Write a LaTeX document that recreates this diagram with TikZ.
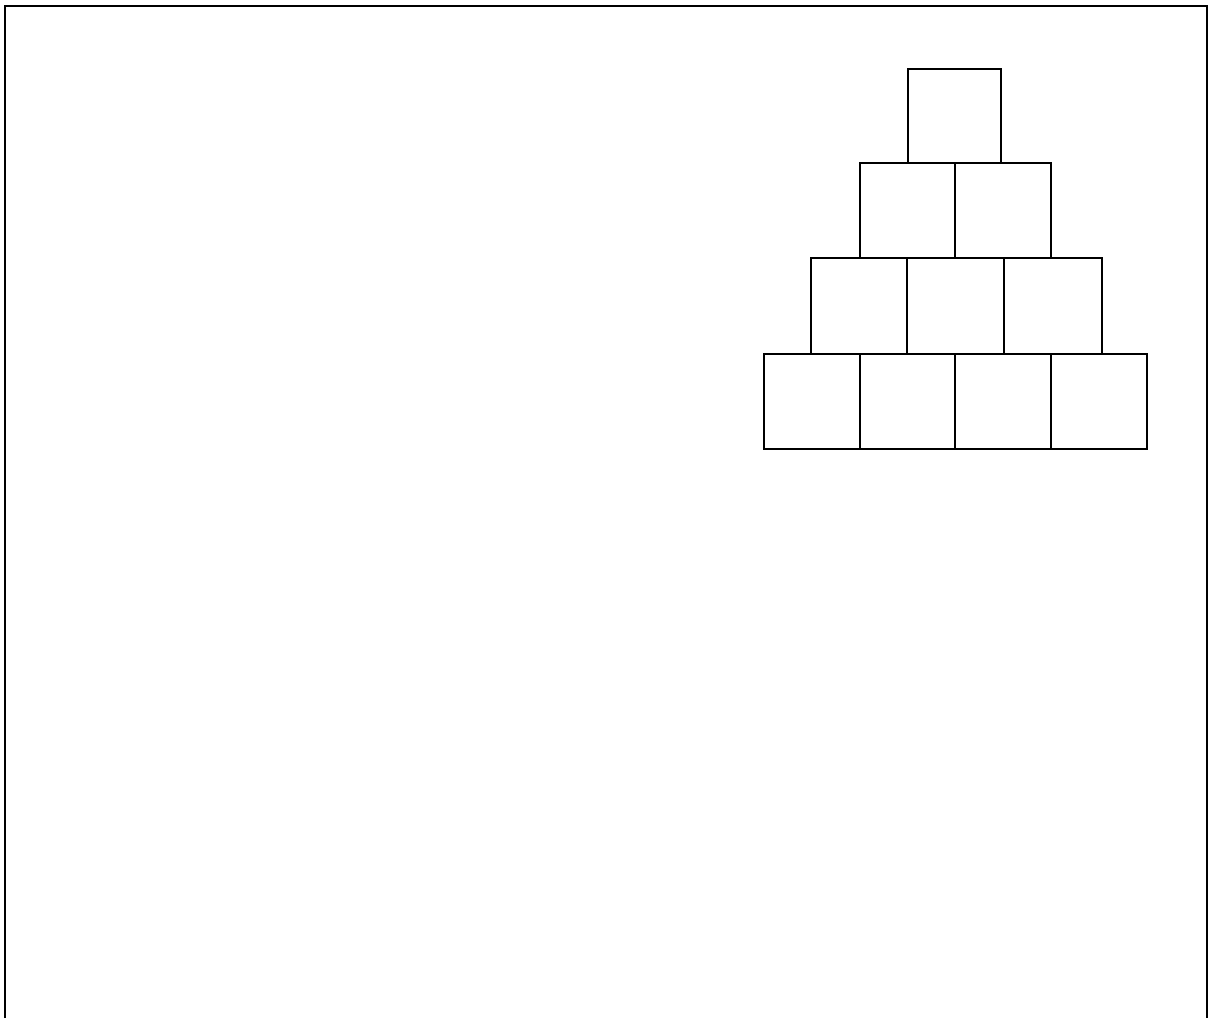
\documentclass[tikz,border=0pt]{standalone}
\begin{document}
\begin{tikzpicture}[x=1pt,y=-1pt,
  cell/.style={draw=black,line width=2.8pt,rectangle,inner sep=0pt,outer sep=0pt,fill=none},
  frameline/.style={draw=black,line width=2.4pt}]
\useasboundingbox (0,0) rectangle (1210,1018);
% open frame
\coordinate (fbl) at (5,1018);
\coordinate (ftl) at (5,6);
\coordinate (ftr) at (1207,6);
\coordinate (fbr) at (1207,1018);
\draw[frameline] (fbl) -- (ftl) -- (ftr) -- (fbr);
% row 4 (bottom)
\node[cell,minimum width=96pt,minimum height=95pt] (d1) at (812,401.5) {};
\node[cell,minimum width=95pt,minimum height=95pt] (d2) at (907.5,401.5) {};
\node[cell,minimum width=96pt,minimum height=95pt] (d3) at (1003,401.5) {};
\node[cell,minimum width=96pt,minimum height=95pt] (d4) at (1099,401.5) {};
% row 3
\node[cell,minimum width=96pt,minimum height=96pt] (c1) at (859,306) {};
\node[cell,minimum width=97pt,minimum height=96pt] (c2) at (955.5,306) {};
\node[cell,minimum width=98pt,minimum height=96pt] (c3) at (1053,306) {};
% row 2
\node[cell,minimum width=95pt,minimum height=95pt] (b1) at (907.5,210.5) {};
\node[cell,minimum width=96pt,minimum height=95pt] (b2) at (1003,210.5) {};
% top
\node[cell,minimum width=93pt,minimum height=94pt] (a1) at (954.5,116) {};
\end{tikzpicture}
\end{document}
